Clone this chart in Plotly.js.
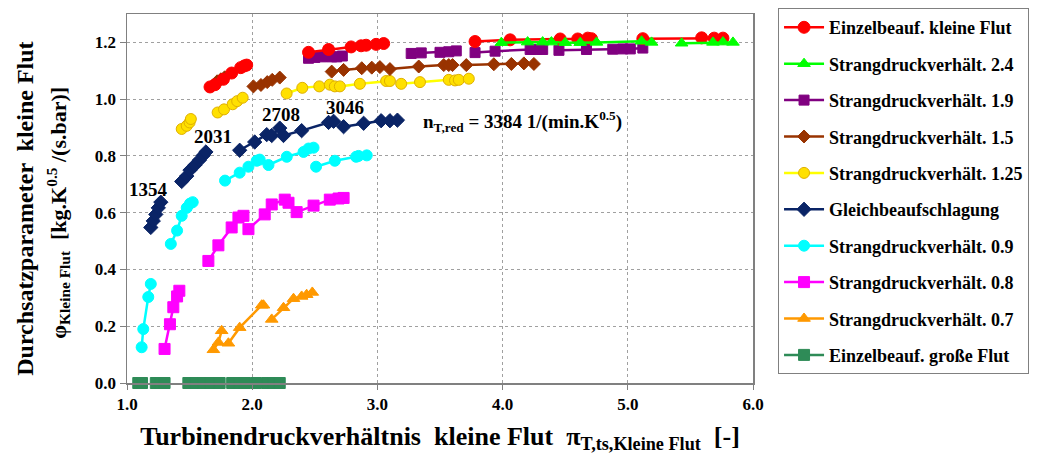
<!DOCTYPE html>
<html>
<head>
<meta charset="utf-8">
<script src="https://cdn.plot.ly/plotly-3.0.1.min.js"></script>
<style>html,body{margin:0;padding:0;background:#fff;}#chart{width:1051px;height:454px;}
.legendtext{font-family:'Liberation Serif',serif !important;}</style>
</head>
<body>
<div id="chart"></div>
<script>
// Series names
const seriesNames = ["Einzelbeauf. kleine Flut","Strangdruckverhält. 2.4","Strangdruckverhält. 1.9","Strangdruckverhält. 1.5","Strangdruckverhält. 1.25","Gleichbeaufschlagung","Strangdruckverhält. 0.9","Strangdruckverhält. 0.8","Strangdruckverhält. 0.7","Einzelbeauf. große Flut"];

// null separates the speed lines
const redX = [1.663,1.703,1.77,1.836,1.908,1.937,1.956,null,2.45,2.61,2.79,2.87,2.91,2.99,3.05,null,3.78,4.06,4.46,4.60,4.68,4.71,null,5.12,5.59,5.69,5.76];
const redY = [1.043,1.051,1.07,1.092,1.111,1.117,1.12,null,1.165,1.175,1.184,1.188,1.19,1.193,1.196,null,1.203,1.209,1.212,1.212,1.215,1.213,null,1.213,1.216,1.215,1.215];

const green24X = [3.99,4.20,4.32,4.39,4.50,4.62,4.75,5.11,5.19,null,5.43,5.68,5.76,5.84];
const green24Y = [1.199,1.201,1.201,1.201,1.199,1.199,1.2,1.204,1.2,null,1.197,1.2,1.201,1.2];

const purpleX = [2.45,2.50,2.555,2.595,2.635,2.675,2.72,null,3.27,3.35,3.50,3.57,3.63,null,3.78,3.94,4.22,4.27,4.32,null,4.45,4.67,4.88,4.96,5.02,5.12];
const purpleY = [1.144,1.147,1.149,1.152,1.149,1.149,1.152,null,1.161,1.163,1.165,1.167,1.17,null,1.164,1.169,1.175,1.175,1.175,null,1.172,1.175,1.176,1.177,1.177,1.18];

const brownX = [1.72,1.75,1.78,null,2.01,2.07,2.12,2.16,2.22,null,2.635,2.73,2.875,2.955,3.02,3.10,3.33,3.53,3.57,3.60,null,3.71,3.93,4.07,4.17,4.25];
const brownY = [1.063,1.07,1.077,null,1.045,1.05,1.06,1.068,1.076,null,1.097,1.103,1.109,1.111,1.113,1.106,1.115,1.12,1.12,1.12,null,1.12,1.123,1.124,1.126,1.124];

const yellowX = [1.437,1.477,1.50,1.51,null,1.724,1.775,1.844,1.88,1.924,null,2.275,2.40,2.536,2.62,2.66,2.70,2.86,3.07,3.10,null,3.19,3.34,3.57,3.62,3.65,3.73];
const yellowY = [0.895,0.906,0.918,0.93,null,0.953,0.964,0.982,0.993,1.005,null,1.02,1.04,1.045,1.051,1.045,1.045,1.054,1.064,1.064,null,1.054,1.06,1.068,1.066,1.068,1.072];

const navyX = [1.19,1.21,1.23,1.25,1.27,null,1.437,1.477,1.503,1.543,1.578,1.61,1.63,null,1.90,2.02,2.116,2.156,2.22,2.25,2.395,2.61,2.65,null,2.73,2.89,3.03,3.10,3.16];
const navyY = [0.548,0.571,0.594,0.617,0.637,null,0.71,0.729,0.75,0.768,0.785,0.802,0.814,null,0.82,0.849,0.875,0.872,0.898,0.872,0.889,0.918,0.922,null,0.903,0.915,0.924,0.924,0.926];

const cyanX = [1.117,1.13,1.17,1.19,null,1.35,1.40,1.437,1.477,1.503,1.525,null,1.783,1.90,1.97,2.036,2.06,null,2.13,2.276,2.41,2.45,2.49,null,2.51,2.66,2.83,2.85,2.915];
const cyanY = [0.126,0.19,0.303,0.349,null,0.49,0.537,0.589,0.617,0.632,0.637,null,0.713,0.741,0.762,0.783,0.787,null,0.768,0.797,0.814,0.826,0.829,null,0.762,0.783,0.797,0.8,0.802];

const magentaX = [1.30,1.343,1.37,1.40,1.418,null,1.65,1.73,1.836,1.89,1.93,null,1.97,2.10,2.156,2.26,2.29,null,2.355,2.49,2.62,2.69,2.73];
const magentaY = [0.12,0.207,0.267,0.305,0.325,null,0.43,0.485,0.548,0.583,0.589,null,0.542,0.594,0.629,0.646,0.635,null,0.602,0.625,0.646,0.65,0.652];

const orangeX = [1.69,1.73,1.756,null,1.81,1.90,2.076,2.09,null,2.156,2.25,2.33,2.395,2.435,2.48];
const orangeY = [0.117,0.143,0.184,null,0.14,0.195,0.274,0.274,null,0.224,0.265,0.297,0.305,0.311,0.319];

const grossX = [1.09,1.12,null,1.23,1.27,1.30,null,1.49,1.55,1.61,1.67,1.74,null,1.84,1.90,1.94,null,2.03,null,2.12,2.17,2.22];
const grossY = [0,0,null,0,0,0,null,0,0,0,0,0,null,0,0,0,null,0,null,0,0,0];

// speed labels
const speedLabels = ["1354","2031","2708","3046"];
const speedLabelX = [1.168,1.687,2.23,2.74];
const speedLabelY = [0.68,0.867,0.947,0.971];

const yTitleLines = ["Durchsatzparameter  kleine Flut", "φ<sub>Kleine Flut</sub>  [kg.K<sup>0.5</sup> /(s.bar)]"];

const FONT = "Liberation Serif";

function tr(i, x, y, color, symbol, size, mcolor, mline) {
  return {
    type: "scatter", mode: "lines+markers",
    name: "<b>" + seriesNames[i] + "</b>",
    x: x, y: y, connectgaps: false, legendrank: i + 1, legendgroup: "g" + i, cliponaxis: false,
    line: {color: color, width: 2.5},
    marker: {color: mcolor || color, symbol: symbol, size: size, line: {color: mline || (mcolor || color), width: 1}}
  };
}

const data = [
  tr(9, grossX, grossY, "#2E8B57", "square", 11),
  tr(8, orangeX, orangeY, "#FF9900", "triangle-up", 11),
  tr(7, magentaX, magentaY, "#FF00FF", "square", 11),
  tr(6, cyanX, cyanY, "#00FFFF", "circle", 11),
  tr(5, navyX, navyY, "#0A2466", "diamond", 11),
  tr(4, yellowX, yellowY, "#FFFF00", "circle", 11, "#FFE000", "#E0B000"),
  tr(3, brownX, brownY, "#993300", "diamond", 10),
  tr(2, purpleX, purpleY, "#800080", "square", 10),
  tr(0, redX, redY, "#FF0000", "circle", 12),
  tr(1, green24X, green24Y, "#00FF00", "triangle-up", 11)
];

const annotations = speedLabels.map((t, i) => ({
  x: speedLabelX[i], y: speedLabelY[i], xref: "x", yref: "y", text: "<b>" + t + "</b>", showarrow: false,
  font: {family: FONT, size: 19, color: "#000"}
}));
annotations.push({
  x: 3.35, y: 0.923, xref: "x", yref: "y", xanchor: "left", showarrow: false,
  text: "<b>n<sub>T,red</sub> = 3384 1/(min.K<sup>0.5</sup>)</b>",
  font: {family: FONT, size: 19, color: "#000"}
});
// y-axis title, two lines
annotations.push({
  x: -0.163, y: 0.472, xref: "paper", yref: "paper", xanchor: "center", yanchor: "middle",
  textangle: -90, showarrow: false,
  text: "<b>" + yTitleLines[0] + "</b>", font: {family: FONT, size: 24, color: "#000"}
});
annotations.push({
  x: -0.11, y: 0.462, xref: "paper", yref: "paper", xanchor: "center", yanchor: "middle",
  textangle: -90, showarrow: false,
  text: "<b>" + yTitleLines[1] + "</b>", font: {family: FONT, size: 22, color: "#000"}
});

const layout = {
  width: 1051, height: 454,
  margin: {l: 127, r: 298, t: 8, b: 71},
  paper_bgcolor: "#fff", plot_bgcolor: "#fff",
  font: {family: FONT, color: "#000"},
  showlegend: true,
  legend: {
    x: 1.04, y: 1.016, xanchor: "left", yanchor: "top",
    bordercolor: "#808080", borderwidth: 1,
    font: {family: FONT, size: 18, color: "#000"},
    traceorder: "grouped", tracegroupgap: 10, itemwidth: 40, maxheight: 1
  },
  xaxis: {
    range: [1, 6], dtick: 1, tick0: 1, tickformat: ".1f",
    showline: true, linecolor: "#808080", linewidth: 1.5, mirror: true,
    showgrid: true, gridcolor: "#A0A0A0", griddash: "dot", gridwidth: 1,
    ticks: "outside", ticklen: 5, tickcolor: "#808080", zeroline: false,
    tickfont: {family: FONT, size: 17, weight: "bold"},
    title: {text: "<b>Turbinendruckverhältnis  kleine Flut  π<sub>T,ts,Kleine Flut</sub>  [-]</b>", font: {family: FONT, size: 26}, standoff: 14}
  },
  yaxis: {
    range: [0, 1.3], dtick: 0.2, tick0: 0, tickformat: ".1f",
    showline: true, linecolor: "#808080", linewidth: 1.5, mirror: true,
    showgrid: true, gridcolor: "#A0A0A0", griddash: "dot", gridwidth: 1,
    ticks: "outside", ticklen: 6, tickcolor: "#808080", zeroline: false,
    tickfont: {family: FONT, size: 17, weight: "bold"}
  },
  annotations: annotations
};

Plotly.newPlot("chart", data, layout, {displayModeBar: false, staticPlot: true});
</script>
</body>
</html>
